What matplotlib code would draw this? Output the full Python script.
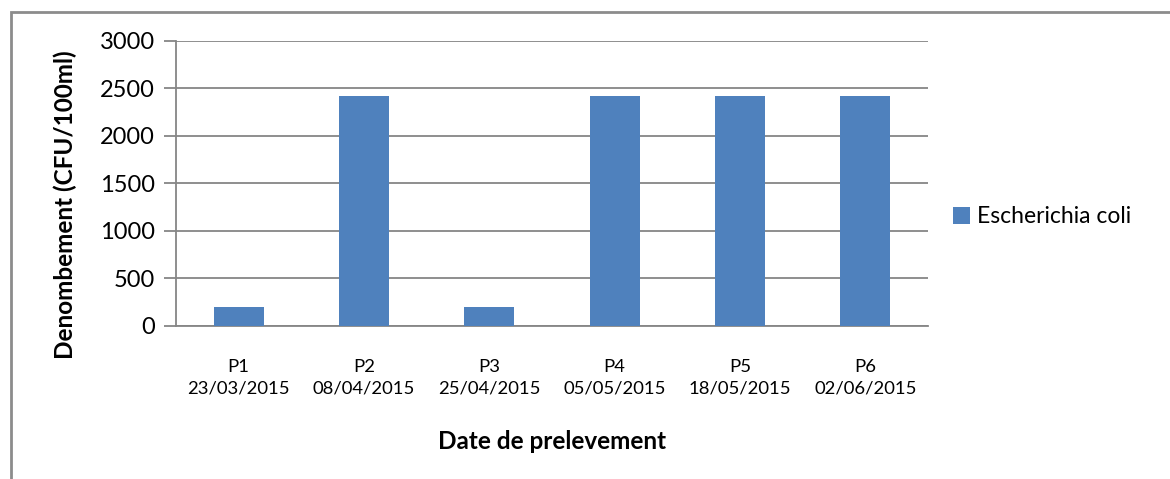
import matplotlib

matplotlib.use("agg")
import matplotlib.pyplot as plt
from matplotlib.patches import Rectangle

# data
points = ["P1", "P2", "P3", "P4", "P5", "P6"]
dates = ["23/03/2015", "08/04/2015", "25/04/2015", "05/05/2015", "18/05/2015", "02/06/2015"]
ecoli = [195, 2420, 195, 2420, 2420, 2420]
y_ticks = [0, 500, 1000, 1500, 2000, 2500, 3000]

BAR_COLOR = "#4F81BD"
GRID_COLOR = "#868686"

plt.rcParams["font.family"] = ["Lato", "DejaVu Sans"]

W, H = 1170, 479
fig = plt.figure(figsize=(W / 100, H / 100), dpi=100)

# outer chart frame (only top and left edges visible in the crop)
fig.patches.append(Rectangle((11 / W, -0.1), 1.2, (H - 12) / H + 0.1,
                             transform=fig.transFigure, fill=False,
                             edgecolor="#8c8c8c", linewidth=2))

x0, x1, y0, y1 = 176, 928, 325.7, 40.7
ax = fig.add_axes([x0 / W, (H - y0) / H, (x1 - x0) / W, (y0 - y1) / H])

xs = range(len(points))
ax.bar(xs, ecoli, width=0.4, color=BAR_COLOR, label="Escherichia coli", zorder=3)

ax.set_xlim(-0.5, len(points) - 0.5)
ax.set_ylim(0, 3000)
ax.set_yticks(y_ticks)
ax.set_xticks(list(xs))
ax.set_xticklabels([f"{p}\n{d}" for p, d in zip(points, dates)],
                   fontsize=13.3, linespacing=1.45)
ax.tick_params(axis="x", length=0, pad=24)
ax.tick_params(axis="y", length=9, width=1.3, color=GRID_COLOR,
               labelsize=17, pad=6)

ax.grid(axis="y", color=GRID_COLOR, linewidth=1.3, zorder=0)
for side in ("top", "right"):
    ax.spines[side].set_visible(False)
for side in ("left", "bottom"):
    ax.spines[side].set_color(GRID_COLOR)
    ax.spines[side].set_linewidth(1.3)

ax.set_ylabel("Denombement (CFU/100ml)", fontsize=17.5, fontweight="bold")
ax.yaxis.set_label_coords(-0.131, 0.425)
ax.set_xlabel("Date de prelevement", fontsize=17.5, fontweight="bold")
ax.xaxis.set_label_coords(0.5, -0.366)

fig.legend(loc="center left", bbox_to_anchor=(944 / W, 1 - 217 / H),
           frameon=False, fontsize=16.5, handlelength=0.75, handleheight=0.75,
           handletextpad=0.3, borderaxespad=0)

fig.savefig("out.png", dpi=100, facecolor="white")
